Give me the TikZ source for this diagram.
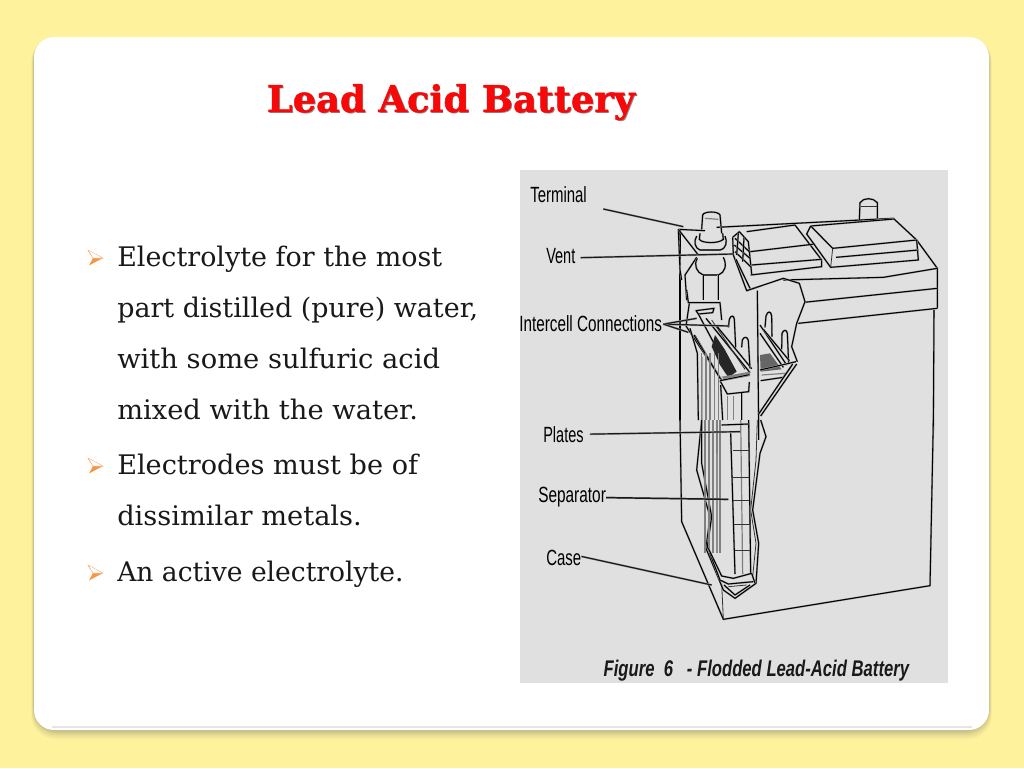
\documentclass[tikz,border=0pt]{standalone}
\usepackage{graphicx}
\usepackage{fontspec}
\setmainfont{DejaVu Serif}
\newfontfamily\labfont{Liberation Sans}
\definecolor{bgyellow}{HTML}{FEF29C}
\definecolor{figgray}{HTML}{E0E0E0}
\definecolor{bulorange}{HTML}{F79646}
\definecolor{titlered}{HTML}{F80808}
\tikzset{
  bodytext/.style={anchor=base west,inner sep=0pt,font=\fontsize{20.2}{24}\selectfont,text=black!90},
  titletext/.style={anchor=base,inner sep=0pt,font=\fontsize{27.6}{30}\bfseries\selectfont},
  lab/.style={anchor=base west,inner sep=0pt,font=\labfont\fontsize{16.5}{20}\selectfont,text=black},
  ink/.style={draw=black,line width=.8pt,line join=round,preaction={draw=black!35,line width=1.4pt}},
  thin ink/.style={draw=black!80,line width=.6pt,line join=round},
  pale ink/.style={draw=black!50,line width=.9pt,line join=round},
  leader/.style={draw=black!90,line width=.9pt,preaction={draw=black!35,line width=1.5pt}},
  zoomA/.style={shift={(520,170)},x=.25pt,y=-.25pt},
  zoomB/.style={shift={(520,420)},x=.25pt,y=-.25pt},
  zoomC/.style={shift={(670,290)},x=.25pt,y=-.25pt},
  zoomD/.style={shift={(670,200)},x=.25pt,y=-.25pt}
}
\newcommand{\arrowbul}[2]{%
  \fill[bulorange] (#1-15,#2-7) -- (#1,#2) -- (#1-14,#2+7.5) -- (#1-10,#2) -- cycle;
  \filldraw[fill=white,draw=bulorange!70,line width=.3pt] (#1-15,#2-8) -- (#1,#2) -- (#1-10,#2) -- cycle;
}
\begin{document}
\begin{tikzpicture}[x=.75pt,y=-.75pt]
\useasboundingbox (0,0) rectangle (1024,768);
\fill[bgyellow] (0,0) rectangle (1024,768);
% card shadow
\foreach \o/\a in {9/.05,7/.07,5/.09,3/.12,1/.15}{
  \fill[black!60,opacity=\a,rounded corners=18pt] (34-\o*.3,37) rectangle (989+\o*.3,730+\o);
}
\fill[white,rounded corners=15pt] (34,37) rectangle (989,730);
\draw[black!10,line width=1pt] (52,727) -- (972,727);
% title
\node[titletext,text=black!45] (titleshadow) at (452.5,113.5) {Lead Acid Battery};
\node[titletext,text=titlered] (title) at (451,112) {\special{pdf:literal q 0.35 w 0.97 0.03 0.03 RG 2 Tr}Lead Acid Battery\special{pdf:literal 0 Tr Q}};
% bullets
\arrowbul{103}{258}
\arrowbul{103}{466}
\arrowbul{103}{573}
\node[bodytext] (t1) at (117,266) {Electrolyte for the most};
\node[bodytext] (t2) at (117,317) {part distilled (pure) water,};
\node[bodytext] (t3) at (117,368) {\scalebox{1.016}[1]{with some sulfuric acid}};
\node[bodytext] (t4) at (117,419) {\scalebox{1.014}[1]{mixed with the water.}};
\node[bodytext] (t5) at (117,474) {\scalebox{1.007}[1]{Electrodes must be of}};
\node[bodytext] (t6) at (117,525) {\scalebox{1.012}[1]{dissimilar metals.}};
\node[bodytext] (t7) at (117,581) {\scalebox{.986}[1]{An active electrolyte.}};
% figure
\fill[figgray] (520,170) rectangle (948,683);
\begin{scope}[zoomA]
  % case outer
  \path[ink] (480,178) -- (480,780);
  \path[ink] (590,172) -- (1120,145) -- (1190,210) -- (1252,295) -- (1252,415);
  \path[ink] (1242,420) -- (1240,780);
  \path[ink] (1252,295) -- (1090,322) -- (790,330);
  \path[ink] (1252,355) -- (852,397);
  \path[ink] (1252,415) -- (835,460);
  % lid block 1
  \path[ink] (680,185) -- (825,165) -- (905,270) -- (905,290) -- (692,315);
  \path[ink] (690,245) -- (885,222);
  \path[ink] (695,285) -- (905,268);
  % lid block 2
  \path[ink] (872,168) -- (1122,147);
  \path[ink] (872,168) -- (860,192) -- (932,292) -- (1195,270) -- (1190,210) -- (938,235) -- (872,168);
  \path[ink] (948,262) -- (1195,240);
  \path[thin ink] (932,292) -- (938,235);
  % far terminal
  \path[ink] (1018,150) -- (1020,98) .. controls (1030,82) and (1060,82) .. (1072,98) -- (1072,145);
  \path[thin ink] (1022,108) -- (1070,108);
  % cut-away, right cell
  \path[ink] (680,362) -- (790,325) -- (838,340) -- (855,395) -- (830,460) -- (815,530) -- (832,575);
  \path[ink] (712,362) -- (716,780);
  % left cell edge below the terminal
  \path[ink] (545,560) -- (545,780);
\end{scope}
\begin{scope}[zoomD]
  % case corner and crossing
  \path[ink] (25,88) -- (105,92);
  \path[ink] (25,88) -- (30,210);
  \path[ink] (25,88) -- (85,165);
  \path[ink] (80,172) -- (45,225) -- (50,300);
  \path[ink] (30,210) -- (35,240);
  % terminal
  \path[ink] (95,88) -- (98,45) .. controls (102,33) and (145,33) .. (150,45) -- (155,100);
  \path[pale ink] (105,55) -- (145,58);
  \path[ink] (90,100) -- (88,118) .. controls (95,130) and (145,132) .. (160,118) -- (158,100);
  \path[ink] (80,108) .. controls (70,125) and (75,145) .. (90,150) -- (150,150) .. controls (170,145) and (172,125) .. (165,108);
  % vent
  \path[ink] (82,175) .. controls (70,195) and (80,218) .. (100,225) -- (145,225) .. controls (165,218) and (172,195) .. (160,172);
  \path[ink] (100,225) -- (100,300);
  \path[ink] (145,225) -- (145,300);
  % hatch box on the lid
  \path[ink] (188,112) -- (208,95) -- (235,125) -- (245,222);
  \path[ink] (195,115) -- (238,155);
  \path[ink] (193,135) -- (240,175);
  \path[ink] (195,155) -- (242,200);
  \path[ink] (205,100) -- (200,165);
  \path[ink] (222,112) -- (218,185);
  \path[ink] (188,112) -- (190,165) -- (230,272) -- (260,262);
  \path[ink] (198,178) -- (240,265);
\end{scope}
\begin{scope}[zoomC]
  % connector group, left cell
  \path[ink] (50,0) -- (55,38) -- (150,38) -- (155,90);
  \path[ink] (58,40) -- (48,108);
  \path[ink] (48,108) -- (155,270);
  \path[ink] (78,62) -- (132,55) -- (128,68) -- (85,72) -- cycle;
  \path[ink] (85,72) -- (172,235);
  \path[ink] (108,85) -- (240,248);
  \path[ink] (140,108) -- (245,236);
  \path[thin ink] (125,90) -- (225,238);
  \path[thin ink] (75,135) -- (150,262);
  % posts
  \path[ink] (175,112) -- (178,88) .. controls (183,74) and (192,76) .. (193,88) -- (197,172);
  \path[ink] (215,172) -- (217,150) .. controls (222,138) and (233,140) .. (235,152) -- (240,235);
  % dark knot
  \fill[black!85] (135,135) -- (165,180) -- (200,245) -- (175,262) -- (150,225) -- (125,170) -- cycle;
  \fill[black!50] (155,260) -- (240,245) -- (240,258) -- (165,272) -- cycle;
  % cap of plates
  \path[ink] (150,272) -- (172,312) -- (236,305) -- (238,276);
  \path[ink] (150,272) -- (238,254);
  % left plate edge
  \path[ink] (60,115) -- (82,190) -- (85,390);
  \path[ink] (72,135) -- (150,265);
  \foreach \xx in {95,108,120,133,146}{\path[pale ink] (\xx,190) -- (\xx,390);}
  \path[ink] (152,285) -- (158,390);
  \path[pale ink] (172,318) -- (172,390);
  \path[pale ink] (190,318) -- (190,390);
  \path[ink] (215,308) -- (215,390);
  % right cell
  \path[ink] (285,112) -- (288,78) .. controls (293,62) and (303,62) .. (305,78) -- (306,140);
  \path[ink] (335,178) -- (336,130) .. controls (341,118) and (350,118) .. (352,130) -- (356,222);
  \path[ink] (270,105) -- (350,225);
  \path[ink] (270,130) -- (340,232);
  \path[ink] (280,118) -- (358,212);
  \fill[black!60] (270,195) -- (300,190) -- (335,238) -- (272,245) -- cycle;
  \path[ink] (270,240) -- (378,215);
  \path[ink] (272,272) -- (340,262) -- (362,232);
  \path[pale ink] (275,255) -- (345,250);
  \path[ink] (380,222) -- (272,378);
  \path[ink] (368,222) -- (266,372);
\end{scope}
\begin{scope}[zoomB]
  % case outer continued
  \path[ink] (480,0) -- (485,305) -- (610,598) -- (1230,497) -- (1240,0);
  \path[ink] (716,0) -- (716,60);
  \path[thin ink] (605,490) -- (610,598);
  % plate outline
  \path[ink] (545,0) -- (530,150) -- (570,290) -- (558,385) -- (610,510) -- (645,535) -- (708,490) -- (716,370) -- (698,270) -- (720,100) -- (738,50) -- (722,0);
  \path[ink] (545,0) -- (545,130) -- (575,290) -- (562,380) -- (600,480);
  \path[thin ink] (712,0) -- (708,120) -- (692,270) -- (708,370) -- (698,470);
  \foreach \xx in {555,567,579,591,600}{\path[pale ink] (\xx,0) -- (\xx,400);}
  \path[draw=black!45,line width=1.5pt] (590,100) -- (590,400);
  % separator
  \path[ink] (632,40) -- (645,462);
  \path[ink] (686,0) -- (692,462);
  \path[pale ink] (662,0) -- (668,462);
  \foreach \yy/\xa/\xb in {92/640/688,172/640/688,240/640/688,312/643/690,392/645/690}{\path[thin ink] (\xa,\yy) -- (\xb,\yy);}
  \path[ink] (605,15) -- (686,12);
  \path[ink] (565,385) -- (605,468) -- (640,475) -- (695,460) -- (705,490);
  \path[ink] (600,480) -- (625,492) -- (700,485);
  \path[ink] (612,495) -- (645,525) -- (690,495);
  \path[thin ink] (625,500) -- (680,495);
  % caption
  \node[inner sep=0pt,anchor=base west,font=\labfont\itshape\bfseries\fontsize{17}{20}\selectfont,text=black!90] (caption) at (250,768) {\scalebox{.735}[1]{Figure\ \ 6\ \ \ - Flodded Lead-Acid Battery}};
\end{scope}
% labels and leaders
\node[lab] (terminal) at (530,202) {\scalebox{.68}[1]{Terminal}};
\node[lab] (vent) at (546,263) {\scalebox{.66}[1]{Vent}};
\node[lab] (intercell) at (519,331) {\scalebox{.695}[1]{Intercell Connections}};
\node[lab] (plates) at (543,442) {\scalebox{.66}[1]{Plates}};
\node[lab] (separator) at (538,502) {\scalebox{.70}[1]{Separator}};
\node[lab] (case) at (546,565) {\scalebox{.68}[1]{Case}};
\begin{scope}[zoomA]
  \coordinate (cterm) at (490,170);
  \coordinate (cterms) at (250,117);
  \coordinate (cvent) at (640,252);
  \coordinate (cvents) at (188,263);
  \coordinate (cint1) at (628,468);
  \coordinate (cint2) at (530,445);
  \coordinate (cint3) at (505,487);
\end{scope}
\begin{scope}[zoomB]
  \coordinate (cpl) at (660,35);
  \coordinate (csep) at (625,238);
  \coordinate (ccase) at (575,495);
\end{scope}
\path[leader] (cterms) -- (cterm);
\path[leader] (vent.east |- cvents) ++(5,0) -- (cvent);
\path[leader] (intercell.east) ++(1,1) -- (cint1);
\path[leader] (intercell.east) ++(1,1) -- (cint2);
\path[leader] (intercell.east) ++(1,1) -- (cint3);
\path[leader] (plates.east) ++(6,0) -- (cpl);
\path[leader,line width=1.1pt] (separator.east) ++(0,1) -- (csep);
\path[leader] (case.east) ++(0,-1) -- (ccase);
\end{tikzpicture}
\end{document}
